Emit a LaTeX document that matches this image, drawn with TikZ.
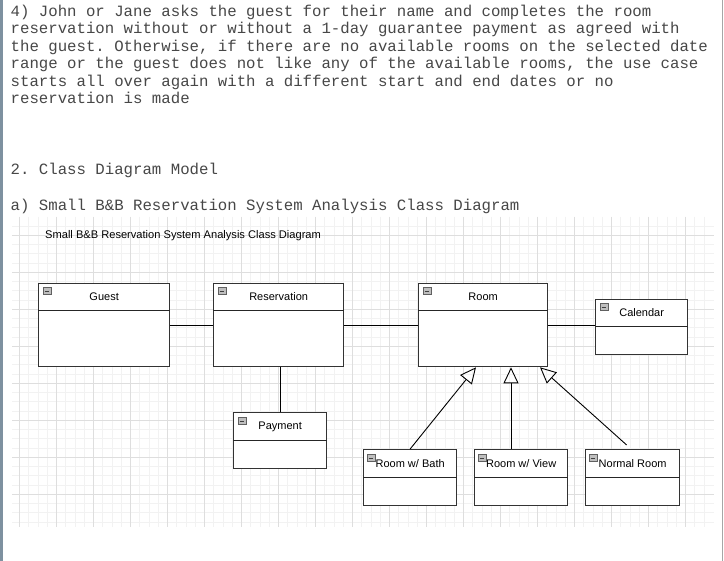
\documentclass[tikz,border=0pt]{standalone}
\usepackage{fontspec}
\setmainfont{Liberation Sans}
\setmonofont{Liberation Mono}
\usetikzlibrary{arrows.meta}

\definecolor{edgeblue}{RGB}{126,145,160}
\definecolor{gridmajor}{RGB}{222,222,222}
\definecolor{gridminor}{RGB}{242,242,242}

\tikzset{
  prose/.style={font=\ttfamily\fontsize{15.7}{17.4}\selectfont, text=black!72, anchor=base west, inner sep=0pt},
  classbox/.style={draw=black!80, line width=1.3pt, fill=white, inner sep=0pt, anchor=north west},
  headline/.style={draw=black!85, line width=0.9pt},
  classname/.style={font=\fontsize{11}{13}\selectfont, text=black, inner sep=0pt},
  iconbox/.style={draw=gray!75!black, fill=gray!50, line width=0.5pt, minimum size=7.5pt, inner sep=0pt, anchor=north west,
    path picture={\draw[black!75, line width=0.8pt] ([xshift=1.3pt]path picture bounding box.west) -- ([xshift=-1.3pt]path picture bounding box.east);}},
  assoc/.style={draw=black, line width=0.9pt},
  inherit/.style={draw=black, line width=0.9pt, -{Triangle[open, length=16pt, width=15pt, line width=0.9pt]}}
}

\begin{document}
\begin{tikzpicture}[x=1pt, y=-1pt]
    \useasboundingbox (0,0) rectangle (724,561);
    \fill[white] (0,0) rectangle (724,561);
    % window edges
    \fill[edgeblue] (0,0) rectangle (3,561);
    \draw[gray!70, line width=1pt] (722.5,0) -- (722.5,561);

    % Text above the diagram
    \foreach \txt [count=\i] in {
        {4) John or Jane asks the guest for their name and completes the room},
        {reservation without or without a 1-day guarantee payment as agreed with},
        {the guest. Otherwise, if there are no available rooms on the selected date},
        {range or the guest does not like any of the available rooms, the use case},
        {starts all over again with a different start and end dates or no},
        {reservation is made}}
        \node[prose] (line\i) at (10.5, {16.5+17.4*(\i-1)}) {\txt};
    \node[prose] (heading) at (10.5,174.5) {2. Class Diagram Model};
    \node[prose] (subheading) at (10.5,210.5) {a) Small B\&B Reservation System Analysis Class Diagram};

    % Grid
    \foreach \gx in {19.5,28.75,...,713} \draw[gridminor, line width=0.8pt] (\gx,217) -- (\gx,527);
    \foreach \gy in {226.05,235.3,...,527} \draw[gridminor, line width=0.8pt] (12,\gy) -- (714,\gy);
    \foreach \gx in {19.5,56.5,...,713} \draw[gridmajor, line width=0.8pt] (\gx,217) -- (\gx,527);
    \foreach \gy in {235.3,272.3,...,527} \draw[gridmajor, line width=0.8pt] (12,\gy) -- (714,\gy);

    \node[classname, font=\fontsize{11.1}{13}\selectfont, anchor=base west] (diagtitle) at (45,239) {Small B\&B Reservation System Analysis Class Diagram};

    % Classes
    \node[classbox, minimum width=131pt, minimum height=83pt] (guest) at (38,283) {};
    \draw[headline] ([yshift=-27pt]guest.north west) -- ([yshift=-27pt]guest.north east);
    \node[classname] (guestname) at ([yshift=-14pt]guest.north) {Guest};
    \node[iconbox] (guesticon) at ([shift={(5,4)}]guest.north west) {};

    \node[classbox, minimum width=130pt, minimum height=83pt] (reservation) at (213,283) {};
    \draw[headline] ([yshift=-27pt]reservation.north west) -- ([yshift=-27pt]reservation.north east);
    \node[classname] (reservationname) at ([yshift=-14pt]reservation.north) {Reservation};
    \node[iconbox] (reservationicon) at ([shift={(5,4)}]reservation.north west) {};

    \node[classbox, minimum width=129pt, minimum height=83pt] (room) at (418,283) {};
    \draw[headline] ([yshift=-27pt]room.north west) -- ([yshift=-27pt]room.north east);
    \node[classname] (roomname) at ([yshift=-14pt]room.north) {Room};
    \node[iconbox] (roomicon) at ([shift={(5,4)}]room.north west) {};

    \node[classbox, minimum width=92pt, minimum height=55pt] (calendar) at (595,299) {};
    \draw[headline] ([yshift=-27pt]calendar.north west) -- ([yshift=-27pt]calendar.north east);
    \node[classname] (calendarname) at ([yshift=-14pt]calendar.north) {Calendar};
    \node[iconbox] (calendaricon) at ([shift={(5,4)}]calendar.north west) {};

    \node[classbox, minimum width=93pt, minimum height=56pt] (payment) at (233,412) {};
    \draw[headline] ([yshift=-28pt]payment.north west) -- ([yshift=-28pt]payment.north east);
    \node[classname] (paymentname) at ([yshift=-14.5pt]payment.north) {Payment};
    \node[iconbox] (paymenticon) at ([shift={(5,5)}]payment.north west) {};

    \node[classbox, minimum width=93pt, minimum height=56pt] (bath) at (363,449) {};
    \draw[headline] ([yshift=-28pt]bath.north west) -- ([yshift=-28pt]bath.north east);
    \node[classname] (bathname) at ([yshift=-14.5pt]bath.north) {Room w/ Bath};
    \node[iconbox] (bathicon) at ([shift={(4,5)}]bath.north west) {};

    \node[classbox, minimum width=93pt, minimum height=56pt] (view) at (474,449) {};
    \draw[headline] ([yshift=-28pt]view.north west) -- ([yshift=-28pt]view.north east);
    \node[classname] (viewname) at ([yshift=-14.5pt]view.north) {Room w/ View};
    \node[iconbox] (viewicon) at ([shift={(4,5)}]view.north west) {};

    \node[classbox, minimum width=94pt, minimum height=56pt] (normal) at (585,449) {};
    \draw[headline] ([yshift=-28pt]normal.north west) -- ([yshift=-28pt]normal.north east);
    \node[classname] (normalname) at ([yshift=-14.5pt]normal.north) {Normal Room};
    \node[iconbox] (normalicon) at ([shift={(4,5)}]normal.north west) {};

    % Associations
    \draw[assoc] (guest.east) -- (reservation.west);
    \draw[assoc] (reservation.east) -- (room.west);
    \draw[assoc] (room.east) -- (room.east -| calendar.west);
    \draw[assoc] (reservation.south -| payment.north) -- (payment.north);

    % Generalizations
    \draw[inherit] (bath.north) -- ([xshift=58pt]room.south west);
    \draw[inherit] ([xshift=37pt]view.north west) -- ([xshift=93pt]room.south west);
    \draw[inherit] ([shift={(-6,-4)}]normal.north) -- ([xshift=122pt]room.south west);
\end{tikzpicture}
\end{document}
